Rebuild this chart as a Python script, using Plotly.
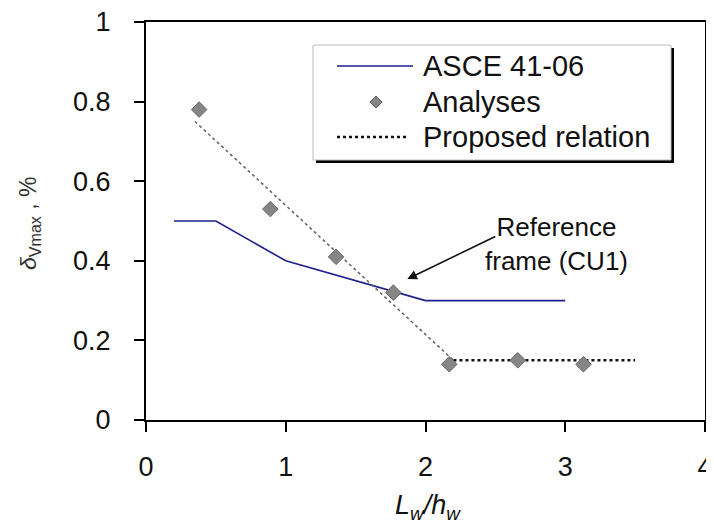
import plotly.graph_objects as go

# ---- data ----
asce_x = [0.2, 0.5, 1.0, 2.0, 3.0]
asce_y = [0.5, 0.5, 0.4, 0.3, 0.3]

analyses_x = [0.38, 0.89, 1.36, 1.77, 2.17, 2.66, 3.13]
analyses_y = [0.78, 0.53, 0.41, 0.32, 0.14, 0.15, 0.14]

prop_slope_x = [0.35, 2.2]
prop_slope_y = [0.75, 0.15]
prop_flat_x = [2.2, 3.5]
prop_flat_y = [0.15, 0.15]

x_ticks = [0, 1, 2, 3, 4]
y_ticks = [0, 0.2, 0.4, 0.6, 0.8, 1]
y_ticklabels = ["0", "0.2", "0.4", "0.6", "0.8", "1"]

legend_names = ["ASCE 41-06", "Analyses", "Proposed relation"]

FONT = "Liberation Sans, Arial, sans-serif"
NAVY = "#1f1f8f"

fig = go.Figure()
fig.add_trace(go.Scatter(x=asce_x, y=asce_y, mode="lines", name=legend_names[0],
                         line=dict(color=NAVY, width=1.6)))
fig.add_trace(go.Scatter(x=prop_slope_x, y=prop_slope_y, mode="lines", showlegend=False,
                         line=dict(color="#666666", width=1.6, dash="dot")))
fig.add_trace(go.Scatter(x=prop_flat_x, y=prop_flat_y, mode="lines", name=legend_names[2],
                         line=dict(color="#111111", width=2.5, dash="dot")))
fig.add_trace(go.Scatter(x=analyses_x, y=analyses_y, mode="markers", name=legend_names[1],
                         marker=dict(symbol="diamond", size=12, color="#858585",
                                     line=dict(color="#666666", width=1))))

# page has an 8px body margin; compensate so the plot area lands at 146..705 x 22..420
OFF = 8
W, H = 714 - OFF, 524 - OFF
PL, PR, PT, PB = 146, 705, 22, 420
L, R, T, B = PL - OFF, OFF + W - PR, PT - OFF, OFF + H - PB
pw, ph = PR - PL, PB - PT


def px(xp):
    return (xp - PL) / pw


def py(yp):
    return (PB - yp) / ph


shapes = []
# legend shadow + box
shapes.append(dict(type="rect", xref="paper", yref="paper",
                   x0=px(316), x1=px(674), y0=py(163), y1=py(48),
                   fillcolor="black", line=dict(width=0), layer="above"))
shapes.append(dict(type="rect", xref="paper", yref="paper",
                   x0=px(313), x1=px(671), y0=py(160), y1=py(45),
                   fillcolor="white", line=dict(color="#bbbbbb", width=1), layer="above"))
# legend samples
shapes.append(dict(type="line", xref="paper", yref="paper",
                   x0=px(337), x1=px(413), y0=py(66), y1=py(66),
                   line=dict(color=NAVY, width=1.6), layer="above"))
shapes.append(dict(type="path", xref="paper", yref="paper", xsizemode="pixel", ysizemode="pixel",
                   xanchor=px(376), yanchor=py(102),
                   path="M0,-6 L6,0 L0,6 L-6,0 Z",
                   fillcolor="#858585", line=dict(color="#666666", width=1), layer="above"))
shapes.append(dict(type="line", xref="paper", yref="paper",
                   x0=px(337), x1=px(408), y0=py(137), y1=py(137),
                   line=dict(color="#111111", width=2.5, dash="dot"), layer="above"))

annotations = []
for name, yp in zip(legend_names, [66, 102, 137]):
    annotations.append(dict(x=px(421), y=py(yp), xref="paper", yref="paper", text=name,
                            showarrow=False, xanchor="left", yanchor="middle",
                            font=dict(family=FONT, size=29, color="#111111")))

# arrow to reference frame
annotations.append(dict(x=1.87, y=0.354, ax=2.51, ay=0.463, xref="x", yref="y",
                        axref="x", ayref="y", text="", showarrow=True,
                        arrowhead=2, arrowsize=1.2, arrowwidth=1.6, arrowcolor="#111111"))
annotations.append(dict(x=2.94, y=0.442, xref="x", yref="y",
                        text="Reference<br>frame (CU1)", showarrow=False,
                        xanchor="center", yanchor="middle",
                        font=dict(family=FONT, size=26, color="#111111")))

# axis titles
annotations.append(dict(x=px(29), y=py(223), xref="paper", yref="paper",
                        xanchor="center", yanchor="middle",
                        text="<i>δ</i><sub>Vmax</sub> , %", textangle=-90, showarrow=False,
                        font=dict(family=FONT, size=23, color="#333333")))
annotations.append(dict(x=px(428), y=py(507), xref="paper", yref="paper",
                        xanchor="center", yanchor="middle",
                        text="<i>L</i><sub><i>w</i></sub><i>/h</i><sub><i>w</i></sub>",
                        showarrow=False,
                        font=dict(family=FONT, size=27, color="#111111")))

fig.update_layout(
    width=W, height=H,
    margin=dict(l=L, r=R, t=T, b=B, autoexpand=False),
    paper_bgcolor="white", plot_bgcolor="white",
    showlegend=False,
    font=dict(family=FONT, size=27, color="#111111"),
    shapes=shapes, annotations=annotations,
)
fig.update_xaxes(range=[0, 4], tickvals=x_ticks, ticks="outside", ticklen=10, tickwidth=2,
                 tickcolor="black", showline=True, linecolor="black", linewidth=2,
                 mirror=True, showgrid=False, zeroline=False, ticklabelstandoff=12,
                 automargin=False, ticklabeloverflow="allow")
fig.update_yaxes(range=[0, 1], tickvals=y_ticks, ticktext=y_ticklabels, ticks="outside",
                 ticklen=10, tickwidth=2, tickcolor="black", showline=True,
                 linecolor="black", linewidth=2, mirror=True, showgrid=False,
                 zeroline=False, ticklabelstandoff=18, automargin=False,
                 ticklabeloverflow="allow")

fig.write_html("out.html")
